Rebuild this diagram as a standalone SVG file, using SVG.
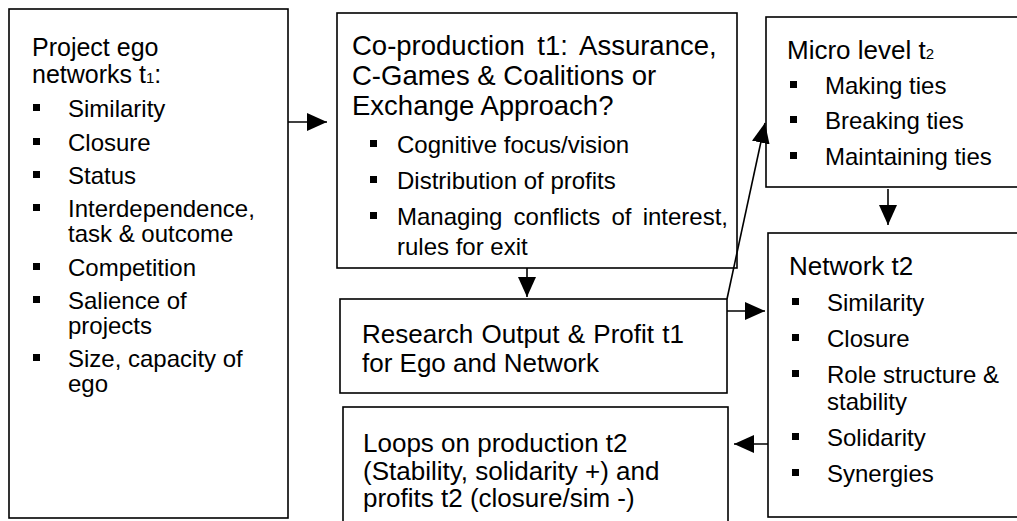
<svg xmlns="http://www.w3.org/2000/svg" width="1017" height="521" viewBox="0 0 1017 521">
<style>
.box{fill:#fff;stroke:#000;stroke-width:1.6}
.t{font-family:"Liberation Sans",Arial,sans-serif;fill:#000}
.h{font-size:26px}
.h1{font-size:25px}
.h2{font-size:27.5px}
.b{font-size:24px}
.sub{font-size:15px}
.bl{fill:#000}
.c{stroke:#000;stroke-width:1.6;fill:none}
</style>
<defs>
<marker id="ah" markerUnits="userSpaceOnUse" markerWidth="20" markerHeight="18" refX="20" refY="9" orient="auto">
<path d="M0,0 L20,9 L0,18 z" fill="#000"/>
</marker>
</defs>
<rect width="1017" height="521" fill="#fff"/>

<g id="node-ego">
<rect class="box" x="9" y="9" width="279" height="509"/>
<text class="t h1" x="32" y="56">Project ego</text>
<text class="t h1" x="32" y="83">networks t<tspan class="sub">1</tspan>:</text>
<rect class="bl" x="33" y="104" width="7" height="7"/>
<text class="t b" x="68" y="117">Similarity</text>
<rect class="bl" x="33" y="138" width="7" height="7"/>
<text class="t b" x="68" y="151">Closure</text>
<rect class="bl" x="33" y="171" width="7" height="7"/>
<text class="t b" x="68" y="184">Status</text>
<rect class="bl" x="33" y="204" width="7" height="7"/>
<text class="t b" x="68" y="217">Interdependence,</text>
<text class="t b" x="68" y="242">task &amp; outcome</text>
<rect class="bl" x="33" y="263" width="7" height="7"/>
<text class="t b" x="68" y="276">Competition</text>
<rect class="bl" x="33" y="296" width="7" height="7"/>
<text class="t b" x="68" y="309">Salience of</text>
<text class="t b" x="68" y="334">projects</text>
<rect class="bl" x="33" y="354" width="7" height="7"/>
<text class="t b" x="68" y="367">Size, capacity of</text>
<text class="t b" x="68" y="392">ego</text>
</g>

<g id="node-coproduction">
<rect class="box" x="337" y="13" width="400" height="255"/>
<text class="t h2" x="352" y="55" word-spacing="5">Co-production t1: Assurance,</text>
<text class="t h2" x="352" y="85">C-Games &amp; Coalitions or</text>
<text class="t h2" x="352" y="115">Exchange Approach?</text>
<rect class="bl" x="370" y="140" width="7" height="7"/>
<text class="t b" x="397" y="153">Cognitive focus/vision</text>
<rect class="bl" x="370" y="176" width="7" height="7"/>
<text class="t b" x="397" y="189">Distribution of profits</text>
<rect class="bl" x="370" y="212" width="7" height="7"/>
<text class="t b" x="397" y="225" word-spacing="4.5">Managing conflicts of interest,</text>
<text class="t b" x="397" y="255">rules for exit</text>
</g>

<g id="node-research">
<rect class="box" x="340" y="299" width="387" height="94"/>
<text class="t h" x="362" y="343" word-spacing="1">Research Output &amp; Profit t1</text>
<text class="t h" x="362" y="372">for Ego and Network</text>
</g>

<g id="node-loops">
<rect class="box" x="343" y="407" width="385" height="130"/>
<text class="t h" x="363" y="452">Loops on production t2</text>
<text class="t h" x="363" y="480">(Stability, solidarity +) and</text>
<text class="t h" x="363" y="507">profits t2 (closure/sim -)</text>
</g>

<g id="node-micro">
<rect class="box" x="766" y="17" width="270" height="170"/>
<text class="t h" x="787" y="59">Micro level t<tspan class="sub">2</tspan></text>
<rect class="bl" x="790" y="81" width="7" height="7"/>
<text class="t b" x="825" y="94">Making ties</text>
<rect class="bl" x="790" y="116" width="7" height="7"/>
<text class="t b" x="825" y="129">Breaking ties</text>
<rect class="bl" x="790" y="152" width="7" height="7"/>
<text class="t b" x="825" y="165">Maintaining ties</text>
</g>

<g id="node-network">
<rect class="box" x="768" y="233" width="270" height="284"/>
<text class="t h" x="789" y="275">Network t2</text>
<rect class="bl" x="792" y="298" width="7" height="7"/>
<text class="t b" x="827" y="311">Similarity</text>
<rect class="bl" x="792" y="334" width="7" height="7"/>
<text class="t b" x="827" y="347">Closure</text>
<rect class="bl" x="792" y="370" width="7" height="7"/>
<text class="t b" x="827" y="383">Role structure &amp;</text>
<text class="t b" x="827" y="410">stability</text>
<rect class="bl" x="792" y="433" width="7" height="7"/>
<text class="t b" x="827" y="446">Solidarity</text>
<rect class="bl" x="792" y="469" width="7" height="7"/>
<text class="t b" x="827" y="482">Synergies</text>
</g>

<g id="connectors">
<line class="c" x1="288" y1="122" x2="327" y2="122" marker-end="url(#ah)"/>
<line class="c" x1="527" y1="268" x2="527" y2="297" marker-end="url(#ah)"/>
<line class="c" x1="727" y1="299" x2="765" y2="123" marker-end="url(#ah)"/>
<line class="c" x1="727" y1="311" x2="765" y2="311" marker-end="url(#ah)"/>
<line class="c" x1="768" y1="444" x2="734" y2="444" marker-end="url(#ah)"/>
<line class="c" x1="888" y1="189" x2="888" y2="225" marker-end="url(#ah)"/>
</g>
</svg>
